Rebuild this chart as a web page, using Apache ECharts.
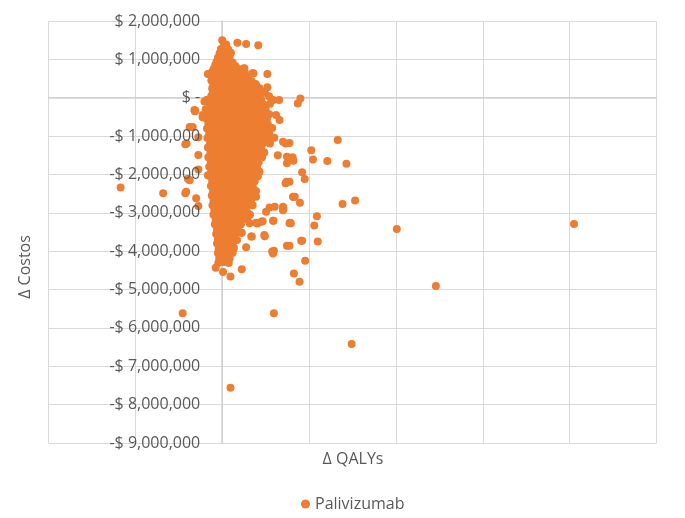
<!DOCTYPE html>
<html>
<head>
<meta charset="utf-8">
<script src="https://cdn.jsdelivr.net/npm/echarts@6/dist/echarts.min.js"></script>
<style>
  html, body { margin: 0; padding: 0; background: #fff; }
  #chart { width: 685px; height: 518px; }
</style>
</head>
<body>
<div id="chart"></div>
<script>
const seriesName = 'Palivizumab'
const xTicks = [-400, -200, 0, 200, 400, 600, 800, 1000]
const yTicks = [-9000000, -8000000, -7000000, -6000000, -5000000, -4000000, -3000000, -2000000, -1000000, 0, 1000000, 2000000]

// dense cloud of simulations, [Δ QALYs, Δ Costos]
const cloud = [
  [0,1500000],
  [4,1370000],[9,1390000],
  [-3,1270000],[6,1290000],[14,1260000],
  [-6,1160000],[3,1180000],[12,1150000],[20,1170000],
  [-10,1040000],[-2,1060000],[8,1030000],[17,1070000],
  [-13,940000],[-4,960000],[5,930000],[15,950000],[24,920000],
  [-16,850000],[-7,830000],[2,870000],[12,840000],[22,860000],[31,820000],
  [-20,750000],[-11,770000],[-1,740000],[10,760000],[20,730000],[30,770000],[40,740000],[50,760000],
  [-24,660000],[-14,680000],[-5,650000],[6,670000],[17,640000],[28,680000],[39,650000],[52,670000],[70,640000],
  [-22,550000],[-10,570000],[1,540000],[12,560000],[24,530000],[36,570000],[47,540000],[60,560000],
  [-25,450000],[-14,470000],[-3,440000],[9,460000],[20,430000],[32,470000],[44,440000],[56,460000],[68,430000],
  [-20,350000],[-8,370000],[4,340000],[15,360000],[27,330000],[39,370000],[51,340000],[63,360000],[78,330000],
  [-23,250000],[-11,270000],[1,240000],[13,260000],[25,230000],[37,270000],[49,240000],[61,260000],[73,230000],[86,250000],
  [-18,150000],[-6,170000],[7,140000],[19,160000],[31,130000],[43,170000],[55,140000],[67,160000],[80,130000],[96,150000],
  [-25,50000],[-13,70000],[-1,40000],[11,60000],[23,30000],[35,70000],[47,40000],[59,60000],[71,30000],[84,50000],[108,40000],
  [-35,-50000],[-20,-30000],[-8,-60000],[4,-40000],[16,-70000],[28,-30000],[40,-60000],[52,-40000],[64,-70000],[76,-30000],[90,-50000],
  [-28,-170000],[-16,-150000],[-4,-180000],[8,-160000],[20,-190000],[32,-150000],[44,-180000],[56,-160000],[68,-190000],[80,-150000],[94,-170000],[110,-160000],
  [-38,-300000],[-24,-280000],[-12,-310000],[0,-290000],[12,-320000],[24,-280000],[36,-310000],[48,-290000],[60,-320000],[72,-280000],[85,-300000],[100,-310000],
  [-30,-420000],[-18,-400000],[-6,-430000],[6,-410000],[18,-440000],[30,-400000],[42,-430000],[54,-410000],[66,-440000],[78,-400000],[92,-420000],[108,-430000],
  [-36,-550000],[-22,-530000],[-10,-560000],[2,-540000],[14,-570000],[26,-530000],[38,-560000],[50,-540000],[62,-570000],[75,-530000],[88,-550000],[103,-540000],
  [-32,-680000],[-20,-660000],[-8,-690000],[4,-670000],[16,-700000],[28,-660000],[40,-690000],[52,-670000],[64,-700000],[76,-660000],[90,-680000],[105,-690000],
  [-35,-800000],[-23,-780000],[-11,-810000],[1,-790000],[13,-820000],[25,-780000],[37,-810000],[49,-790000],[61,-820000],[73,-780000],[86,-800000],[100,-810000],[115,-790000],
  [-30,-930000],[-18,-910000],[-6,-940000],[6,-920000],[18,-950000],[30,-910000],[42,-940000],[54,-920000],[66,-950000],[78,-910000],[92,-930000],[108,-940000],
  [-34,-1050000],[-22,-1030000],[-10,-1060000],[2,-1040000],[14,-1070000],[26,-1030000],[38,-1060000],[50,-1040000],[62,-1070000],[74,-1030000],[88,-1050000],[104,-1060000],[120,-1040000],
  [-28,-1180000],[-16,-1160000],[-4,-1190000],[8,-1170000],[20,-1200000],[32,-1160000],[44,-1190000],[56,-1170000],[68,-1200000],[80,-1160000],[95,-1180000],[110,-1190000],
  [-33,-1300000],[-21,-1280000],[-9,-1310000],[3,-1290000],[15,-1320000],[27,-1280000],[39,-1310000],[51,-1290000],[63,-1320000],[76,-1280000],[90,-1300000],
  [-27,-1430000],[-15,-1410000],[-3,-1440000],[9,-1420000],[21,-1450000],[33,-1410000],[45,-1440000],[57,-1420000],[69,-1450000],[82,-1410000],[97,-1430000],
  [-32,-1550000],[-20,-1530000],[-8,-1560000],[4,-1540000],[16,-1570000],[28,-1530000],[40,-1560000],[52,-1540000],[64,-1570000],[77,-1530000],[92,-1550000],
  [-26,-1680000],[-14,-1660000],[-2,-1690000],[10,-1670000],[22,-1700000],[34,-1660000],[46,-1690000],[58,-1670000],[70,-1700000],[84,-1680000],
  [-30,-1800000],[-18,-1780000],[-6,-1810000],[6,-1790000],[18,-1820000],[30,-1780000],[42,-1810000],[54,-1790000],[66,-1820000],[80,-1800000],
  [-25,-1930000],[-13,-1910000],[-1,-1940000],[11,-1920000],[23,-1950000],[35,-1910000],[47,-1940000],[59,-1920000],[72,-1950000],[86,-1930000],
  [-28,-2050000],[-16,-2030000],[-4,-2060000],[8,-2040000],[20,-2070000],[32,-2030000],[44,-2060000],[56,-2040000],[68,-2070000],[82,-2050000],
  [-23,-2180000],[-11,-2160000],[1,-2190000],[13,-2170000],[25,-2200000],[37,-2160000],[49,-2190000],[61,-2170000],[75,-2180000],
  [-26,-2300000],[-14,-2280000],[-2,-2310000],[10,-2290000],[22,-2320000],[34,-2280000],[46,-2310000],[58,-2290000],[70,-2300000],
  [-21,-2430000],[-9,-2410000],[3,-2440000],[15,-2420000],[27,-2450000],[39,-2410000],[51,-2440000],[64,-2420000],[78,-2430000],
  [-24,-2550000],[-12,-2530000],[0,-2560000],[12,-2540000],[24,-2570000],[36,-2530000],[48,-2560000],[60,-2540000],[72,-2550000],
  [-20,-2680000],[-8,-2660000],[4,-2690000],[16,-2670000],[28,-2700000],[40,-2660000],[52,-2690000],[66,-2680000],
  [-22,-2800000],[-10,-2780000],[2,-2810000],[14,-2790000],[26,-2820000],[38,-2780000],[50,-2810000],[62,-2790000],[70,-2800000],
  [-18,-2930000],[-6,-2910000],[6,-2940000],[18,-2920000],[30,-2950000],[42,-2910000],[55,-2930000],
  [-20,-3050000],[-8,-3030000],[4,-3060000],[16,-3040000],[28,-3070000],[40,-3030000],[52,-3060000],[64,-3050000],
  [-15,-3180000],[-3,-3160000],[9,-3190000],[21,-3170000],[33,-3200000],[46,-3160000],[58,-3180000],
  [-17,-3300000],[-5,-3280000],[7,-3310000],[19,-3290000],[31,-3320000],[43,-3300000],
  [-12,-3430000],[0,-3410000],[12,-3440000],[24,-3420000],[36,-3430000],
  [-14,-3550000],[-2,-3530000],[10,-3560000],[22,-3540000],[30,-3550000],
  [-10,-3680000],[2,-3660000],[14,-3690000],[26,-3670000],
  [-12,-3800000],[0,-3780000],[12,-3810000],[24,-3790000],
  [-8,-3930000],[4,-3910000],[16,-3940000],[27,-3920000],
  [-10,-4050000],[2,-4030000],[14,-4060000],[24,-4040000],
  [-7,-4180000],[5,-4160000],[17,-4190000],
  [-9,-4300000],[3,-4280000],[15,-4310000]
]

// scattered points around the cloud
const scattered = [
  [810,-3290000],[492,-4910000],[298,-6420000],[402,-3420000],[306,-2680000],[277,-2770000],
  [266,-1100000],[205,-1370000],[209,-1610000],[242,-1650000],[286,-1720000],[180,-20000],
  [174,-150000],[164,-1640000],[184,-1940000],[190,-2120000],[164,-2590000],[179,-2740000],
  [218,-3090000],[212,-3330000],[158,-3270000],[184,-3730000],[220,-3750000],[155,-3860000],
  [191,-4250000],[165,-4580000],[178,-4800000],[155,-1180000],[155,-2190000],
  [-234,-2340000],[-136,-2490000],[-85,-2490000],[-91,-5620000],[-85,-1210000],[-75,-760000],
  [-79,-2110000],[-60,-2620000],[-55,-2820000],[119,-5620000],[19,-7560000],
  [-15,-4430000],[2,-4540000],[19,-4660000],[45,-4470000],[55,-3900000],[117,-4060000],
  [119,-3990000],[149,-3860000],[156,-3260000],[141,-2890000],[117,-3210000],[98,-3610000],
  [68,-3620000],[78,-3260000],[93,-3220000],[78,-2580000],[163,-2580000],[146,-2230000],
  [34,-3710000],[22,-3490000],[45,-3520000],[63,-3270000],[59,-3010000],[109,-2860000],
  [121,-2840000],[-22,-2800000],[24,-2970000],
  [6,1350000],[35,1430000],[55,1400000],[83,1370000],[-33,620000],[-25,570000],[51,770000],
  [72,640000],[104,620000],[77,360000],[104,270000],[98,130000],[118,-60000],[131,-60000],
  [86,-230000],[124,-450000],[132,-580000],[-63,-350000],[-42,-500000],[-55,-1030000],
  [-22,200000],[-41,-100000],[140,-1150000],[146,-1190000],[149,-1540000],[149,-1710000],
  [163,-1620000],[-55,-1870000],[-75,-2150000],[-33,-2020000],[148,-2190000],[167,-2580000],
  [140,-2840000],[101,-2970000],[140,-2930000],[90,-3230000],[81,-3280000],[118,-3210000],
  [155,-3270000],[44,-3520000],[67,-3620000],[97,-3580000],[115,-4010000],[182,-3730000],
  [-83,-2450000],[-64,-320000],[-45,-510000],[128,-1500000],[162,-1550000],
  [-62,-340000],[-45,-450000],[-68,-760000],[-82,-1190000],[-55,-1490000]
]

const textColor = '#595959'
const font = '"Open Sans", "Noto Sans", sans-serif'
const fontSize = 16
const xLabelMargin = 18

const W = 685, H = 518
const box = { left: 48.5, right: 28.5, top: 21, bottom: 75 }
const xMin = xTicks[0], xMax = xTicks[xTicks.length - 1]
const yMin = yTicks[0], yMax = yTicks[yTicks.length - 1]
// the axes cross at zero: shift each axis inward to the other axis' zero
const plotW = W - box.left - box.right
const plotH = H - box.top - box.bottom
const yAxisShift = (0 - xMin) / (xMax - xMin) * plotW
const xAxisShift = (0 - yMin) / (yMax - yMin) * plotH

function costLabel(v) {
  if (v === 0) return '$ -'
  const s = Math.abs(v).toLocaleString('en-US')
  return (v < 0 ? '-$ ' : '$ ') + s
}

const xBase = {
  type: 'value', min: xMin, max: xMax, interval: 200,
  position: 'bottom', offset: -xAxisShift
}
const yBase = {
  type: 'value', min: yMin, max: yMax, interval: 1000000,
  position: 'left', offset: -yAxisShift
}
const noLine = { show: false }
const gridBox = { left: box.left, right: box.right, top: box.top, bottom: box.bottom, containLabel: false, outerBoundsMode: 'none' }
const titleFont = fontSize + 'px ' + font

const chart = echarts.init(document.getElementById('chart'))
chart.setOption({
  animation: false,
  textStyle: { fontFamily: font },
  // grid 1 overlays grid 0 and only carries the cost labels
  grid: [Object.assign({}, gridBox), Object.assign({}, gridBox)],
  xAxis: [
    Object.assign({}, xBase, {
      gridIndex: 0,
      axisLine: { onZero: false, lineStyle: { color: '#d0d0d0', width: 1.5 } },
      axisTick: noLine,
      axisLabel: noLine,
      splitLine: { show: true, lineStyle: { color: '#d9d9d9', width: 1 } }
    }),
    Object.assign({}, xBase, {
      gridIndex: 1,
      show: false
    })
  ],
  yAxis: [
    Object.assign({}, yBase, {
      gridIndex: 0,
      axisLine: { show: true, onZero: false, lineStyle: { color: '#d0d0d0', width: 1.5 } },
      axisTick: noLine,
      axisLabel: noLine,
      splitLine: { show: true, lineStyle: { color: '#d9d9d9', width: 1 } }
    }),
    Object.assign({}, yBase, {
      gridIndex: 1,
      zlevel: 1,
      z: 10,
      axisLine: { show: false, onZero: false },
      axisTick: noLine,
      splitLine: noLine,
      axisLabel: { color: textColor, fontSize: fontSize, margin: 22, fontFamily: font, formatter: costLabel, showMinLabel: true, showMaxLabel: true }
    })
  ],
  legend: {
    data: [seriesName],
    left: 296,
    top: 491,
    icon: 'circle',
    itemWidth: 9,
    itemHeight: 9,
    itemGap: 6,
    textStyle: { color: textColor, fontSize: fontSize, fontFamily: font }
  },
  graphic: [
    {
      type: 'text',
      x: 25, y: 267,
      rotation: Math.PI / 2,
      style: { text: 'Δ Costos', fill: textColor, font: titleFont, textAlign: 'center', textVerticalAlign: 'middle' }
    },
    {
      type: 'text',
      x: 353, y: 459,
      style: { text: 'Δ QALYs', fill: textColor, font: titleFont, textAlign: 'center', textVerticalAlign: 'middle' }
    }
  ],
  series: [
    {
      name: seriesName,
      type: 'scatter',
      xAxisIndex: 0,
      yAxisIndex: 0,
      symbolSize: 8,
      itemStyle: { color: '#ED7D31', opacity: 1 },
      data: cloud.concat(scattered)
    },
    // x tick labels sit on the zero line, drawn above the markers
    {
      name: 'xTickLabels',
      type: 'scatter',
      xAxisIndex: 0,
      yAxisIndex: 0,
      zlevel: 1,
      z: 10,
      silent: true,
      symbolSize: 0,
      itemStyle: { opacity: 0 },
      label: {
        show: true,
        position: 'bottom',
        distance: xLabelMargin,
        color: textColor,
        fontSize: fontSize,
        fontFamily: font,
        formatter: p => String(p.value[0])
      },
      data: xTicks.map(t => [t, 0])
    }
  ]
})
</script>
</body>
</html>
